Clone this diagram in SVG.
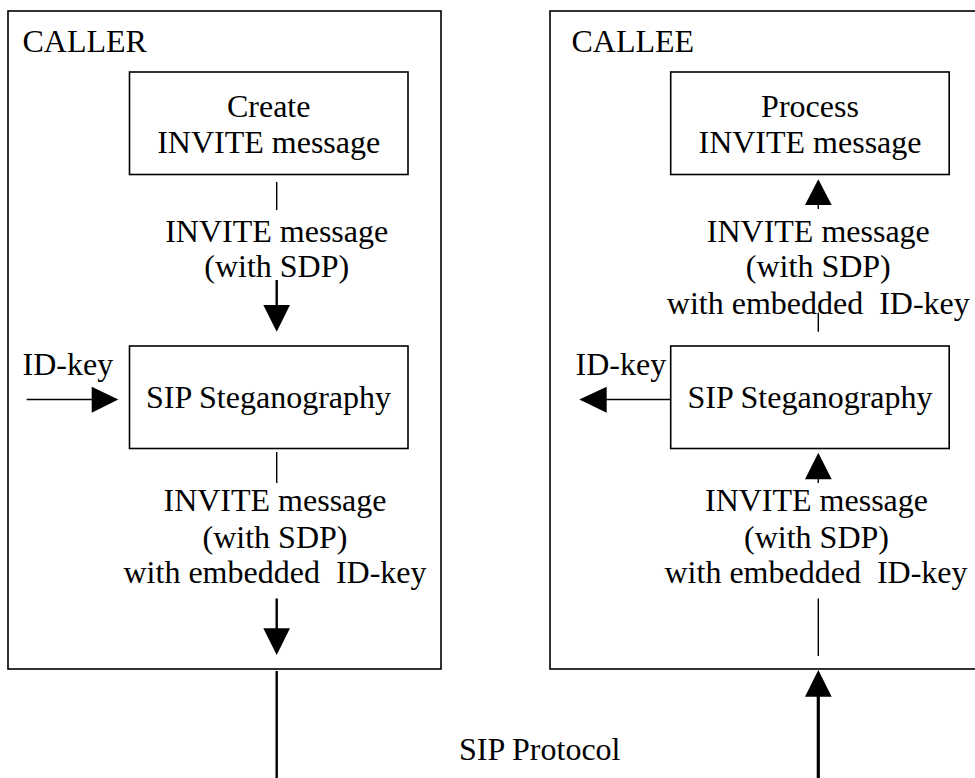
<svg xmlns="http://www.w3.org/2000/svg" width="975" height="778" viewBox="0 0 975 778">
<style>
text{font-family:"Liberation Serif","Times New Roman",serif;font-size:32px;fill:#000}
.c{text-anchor:middle}
.box{fill:none;stroke:#000;stroke-width:1.6}
.thin{stroke:#000;stroke-width:1.4;fill:none}
.thick{stroke:#000;stroke-width:2.4;fill:none}
.head{fill:#000;stroke:none}
</style>
<rect width="975" height="778" fill="#fff"/>
<g id="caller">
<rect class="box" x="8" y="11" width="433" height="658"/>
<text x="22.5" y="52">CALLER</text>
</g>
<g id="callee">
<rect class="box" x="550" y="11" width="440" height="658"/>
<text x="571.5" y="52">CALLEE</text>
</g>
<g id="create-invite">
<rect class="box" x="129.5" y="72" width="278.5" height="102.5"/>
<text class="c" x="268.7" y="117">Create</text>
<text class="c" x="268.7" y="153">INVITE message</text>
</g>
<g id="caller-steg">
<rect class="box" x="129.5" y="346" width="278.5" height="102.5"/>
<text class="c" x="268.5" y="408">SIP Steganography</text>
</g>
<g id="process-invite">
<rect class="box" x="670.7" y="72" width="278.5" height="102.5"/>
<text class="c" x="810" y="117">Process</text>
<text class="c" x="810" y="153">INVITE message</text>
</g>
<g id="callee-steg">
<rect class="box" x="670.7" y="346" width="278.5" height="102.5"/>
<text class="c" x="810" y="408">SIP Steganography</text>
</g>
<g id="labels">
<text class="c" x="276.7" y="242">INVITE message</text>
<text class="c" x="276.7" y="277">(with SDP)</text>
<text x="22.5" y="375">ID-key</text>
<text class="c" x="275" y="511">INVITE message</text>
<text class="c" x="275" y="548">(with SDP)</text>
<text class="c" x="275" y="583" xml:space="preserve">with embedded  ID-key</text>
<text class="c" x="818.3" y="242">INVITE message</text>
<text class="c" x="818.3" y="277">(with SDP)</text>
<text class="c" x="818.3" y="314" xml:space="preserve">with embedded  ID-key</text>
<text x="575.5" y="375">ID-key</text>
<text class="c" x="816.5" y="511">INVITE message</text>
<text class="c" x="816.5" y="548">(with SDP)</text>
<text class="c" x="816" y="583" xml:space="preserve">with embedded  ID-key</text>
<text x="459" y="760">SIP Protocol</text>
</g>
<g id="connectors">
<!-- caller: create -> steg -->
<line class="thin" x1="276.7" y1="182" x2="276.7" y2="210"/>
<line class="thick" x1="276.7" y1="280" x2="276.7" y2="306"/>
<polygon class="head" points="263.3,305 290,305 276.7,331.7"/>
<!-- ID-key into caller steg -->
<line class="thin" x1="26.7" y1="399.5" x2="93" y2="399.5"/>
<polygon class="head" points="91.7,386.7 91.7,412.7 118.3,399.5"/>
<!-- caller steg -> out -->
<line class="thin" x1="276.7" y1="452" x2="276.7" y2="483"/>
<line class="thick" x1="276.7" y1="598.5" x2="276.7" y2="629"/>
<polygon class="head" points="263.3,628.3 290,628.3 276.7,655"/>
<!-- SIP protocol path -->
<line class="thick" x1="276.7" y1="671" x2="276.7" y2="778"/>
<line x1="818.3" y1="696" x2="818.3" y2="778" stroke="#000" stroke-width="3.2"/>
<polygon class="head" points="805,696.7 831.7,696.7 818.3,670"/>
<!-- callee: in -> steg -->
<line class="thin" x1="818.3" y1="598.5" x2="818.3" y2="656"/>
<polygon class="head" points="805,479.3 831.7,479.3 818.3,452.7"/>
<line class="thin" x1="818.3" y1="479" x2="818.3" y2="483"/>
<!-- ID-key out of callee steg -->
<line class="thin" x1="670.7" y1="399.5" x2="606" y2="399.5"/>
<polygon class="head" points="606.7,386.7 606.7,412.7 579.3,399.5"/>
<!-- callee steg -> process -->
<line class="thin" x1="818.3" y1="312.7" x2="818.3" y2="331.7"/>
<line class="thin" x1="818.3" y1="204" x2="818.3" y2="209"/>
<polygon class="head" points="805,205 831.7,205 818.3,179.3"/>
</g>
</svg>
